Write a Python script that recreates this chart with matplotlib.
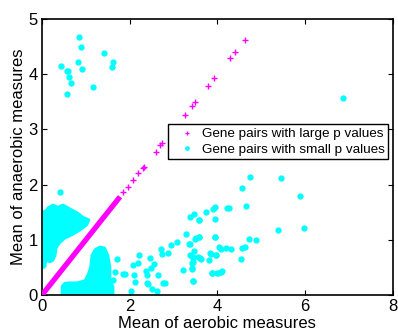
import matplotlib
matplotlib.use("Agg")
import matplotlib.pyplot as plt
from matplotlib.lines import Line2D

# ---- data ----
# dense region of large-p pairs along the diagonal (start, end of the band)
large_band = [0.0, 1.78]
# sparse large-p pairs (x == y)
large_x = [1.85, 1.95, 2.07, 2.19, 2.30, 2.32, 2.59, 2.69, 2.73, 3.26, 3.42, 3.50, 3.79, 3.93, 4.29, 4.40, 4.62]
large_y = [1.87, 1.96, 2.08, 2.21, 2.30, 2.32, 2.59, 2.72, 2.75, 3.26, 3.42, 3.50, 3.79, 3.93, 4.29, 4.40, 4.62]

# outlines of the two dense clouds of small-p pairs
blob_upper_x = [0.00, 0.00, 0.02, 0.11, 0.14, 0.25, 0.36, 0.48, 0.59, 0.80, 0.93, 1.07, 1.02, 0.87,
                0.68, 0.52, 0.39, 0.32, 0.30, 0.25, 0.18, 0.11, 0.05, 0.02]
blob_upper_y = [0.52, 1.45, 1.50, 1.54, 1.58, 1.63, 1.59, 1.63, 1.58, 1.49, 1.41, 1.36, 1.27, 1.18,
                1.09, 1.03, 0.94, 0.85, 0.72, 0.63, 0.60, 0.63, 0.54, 0.50]
blob_lower_x = [0.46, 0.46, 0.52, 0.60, 0.80, 0.98, 1.06, 1.11, 1.14, 1.21, 1.32, 1.43, 1.50, 1.55,
                1.55, 1.62, 1.62]
blob_lower_y = [0.00, 0.16, 0.21, 0.22, 0.22, 0.26, 0.38, 0.51, 0.72, 0.82, 0.87, 0.85, 0.72, 0.51,
                0.27, 0.15, 0.00]

# sparse small-p pairs
small_x = [0.43, 0.57, 0.60, 0.62, 0.66, 0.57, 0.84, 0.89, 0.82, 0.91, 1.16, 1.41, 1.59, 1.62,
           6.86, 0.41, 0.18, 0.03,
           4.74, 5.44, 4.56, 5.88, 4.21, 4.26, 4.65, 3.94, 3.90, 3.74, 3.46, 3.37, 3.58, 3.94,
           5.38, 5.97, 3.48, 3.58, 3.94, 4.72, 4.87, 3.37, 3.46, 4.03, 4.08, 4.19, 4.31, 4.56,
           4.62, 3.37, 3.44, 3.55, 3.62, 3.85, 3.80, 3.96, 4.53, 3.42, 3.42, 3.87, 4.01, 4.08,
           4.10, 3.44,
           1.71, 1.85, 1.89, 1.66, 1.62, 2.07, 2.10, 2.12, 2.21, 2.19, 2.37, 2.39, 2.46, 2.48,
           2.55, 2.39, 2.41, 2.50, 2.62, 2.64, 2.71, 2.73, 2.76, 2.80, 2.87, 2.94, 3.08, 2.03,
           3.21, 3.28, 3.35, 3.44, 3.44, 3.42, 3.44, 3.51, 3.58, 3.60, 3.58, 3.83, 3.87, 3.94,
           3.96, 4.00]
small_y = [4.15, 4.06, 4.06, 3.95, 3.84, 3.64, 4.67, 4.49, 4.22, 4.09, 3.77, 4.38, 4.13, 4.22,
           3.57, 1.87, 1.56, 0.54,
           2.14, 2.12, 1.94, 1.79, 1.58, 1.58, 1.61, 1.60, 1.55, 1.50, 1.47, 1.41, 1.36, 1.38,
           1.18, 1.21, 1.01, 1.05, 1.05, 1.01, 1.00, 0.92, 0.80, 0.87, 0.83, 0.85, 0.83, 0.85,
           0.87, 0.72, 0.67, 0.69, 0.65, 0.74, 0.63, 0.72, 0.65, 0.58, 0.49, 0.40, 0.40, 0.42,
           0.43, 0.25,
           0.65, 0.38, 0.38, 0.42, 0.27, 0.54, 0.36, 0.24, 0.72, 0.58, 0.44, 0.36, 0.67, 0.49,
           0.56, 0.22, 0.20, 0.11, 0.08, 0.36, 0.83, 0.74, 0.22, 0.22, 0.76, 0.90, 0.96, 0.08,
           0.45, 1.10, 0.92, 0.69, 0.60, 0.47, 0.25, 1.03, 1.05, 0.67, 1.36, 0.76, 0.40, 1.05,
           0.72, 0.40]

x_ticks = [0, 2, 4, 6, 8]
y_ticks = [0, 1, 2, 3, 4, 5]
label_large = "Gene pairs with large p values"
label_small = "Gene pairs with small p values"
x_label = "Mean of aerobic measures"
y_label = "Mean of anaerobic measures"

# ---- styling ----
plt.rcParams['font.family'] = ['Liberation Sans', 'DejaVu Sans']
CYAN = '#00FFFF'
MAGENTA = '#FF00FF'

fig = plt.figure(figsize=(3.98, 3.31), dpi=100)
ax = fig.add_axes([0.1055, 0.1088, 0.8815, 0.8338])

ax.fill(blob_upper_x, blob_upper_y, color=CYAN, lw=2.0, joinstyle='round', zorder=2)
ax.fill(blob_lower_x, blob_lower_y, color=CYAN, lw=2.0, joinstyle='round', zorder=2)
ax.plot(small_x, small_y, linestyle='none', marker='o', ms=3.5, color=CYAN, mec=CYAN, zorder=2)

ax.plot(large_band, large_band, color=MAGENTA, lw=3.8, solid_capstyle='butt', zorder=3)
ax.plot(large_x, large_y, linestyle='none', marker='+', ms=4.5, mew=1.0, color=MAGENTA, zorder=3)

ax.set_xlim(0, 8)
ax.set_ylim(0, 5)
ax.set_xticks(x_ticks)
ax.set_yticks(y_ticks)
ax.tick_params(direction='in', top=True, right=True, length=3.5, width=0.8,
               labelsize=12, pad=3)
for s in ax.spines.values():
    s.set_linewidth(1.2)
ax.set_xlabel(x_label, fontsize=12, labelpad=1.5)
ax.set_ylabel(y_label, fontsize=12, labelpad=2)

handles = [Line2D([], [], linestyle='none', marker='+', ms=3.2, mew=0.9, color=MAGENTA),
           Line2D([], [], linestyle='none', marker='o', ms=2.4, color=CYAN)]
leg = ax.legend(handles, [label_large, label_small], loc='center',
                bbox_to_anchor=(0.359, 0.486, 0.627, 0.137), mode='expand',
                fontsize=9.7, frameon=True, fancybox=False, framealpha=1,
                edgecolor='black', borderpad=0.25, labelspacing=0.25,
                handlelength=2.33, handletextpad=-0.05, borderaxespad=0)
leg.get_frame().set_linewidth(1.0)

fig.savefig('out.png', dpi=100)
